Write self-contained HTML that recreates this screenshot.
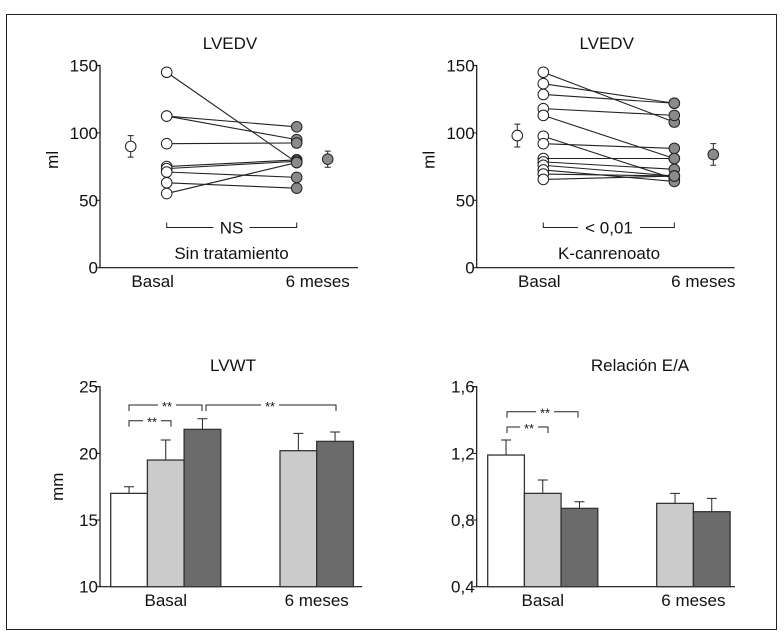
<!DOCTYPE html>
<html><head><meta charset="utf-8"><style>
body{margin:0;background:#fff;}
svg{display:block;font-family:"Liberation Sans",sans-serif;}
text{fill:#111;}
</style></head><body>
<svg id="s" width="784" height="637" viewBox="0 0 784 637">
<rect x="6.5" y="14.5" width="770" height="615" fill="none" stroke="#222" stroke-width="1"/>
</svg>
<script>
// Top-left LVEDV (Sin tratamiento)
const tlBasal=[145,112.5,112.5,92,75,73.5,71,63,55];
const tl6m=[78,104.5,95,92.5,80,79,67,59,78];
const tlMean=[90,80.5];
const tlErr=[8,6];
// Top-right LVEDV (K-canrenoato)
const trBasal=[145,136.5,128.5,118,113,97.5,92,81,78.5,76,72.5,69.5,65.5];
const tr6m=[108,122,122,113,81,66,88.5,81,73,68,64,68,68];
const trMean=[98,84];
const trErr=[8.5,8];
const yTicksTop=[0,50,100,150];
const catLabels=["Basal","6 meses"];
// Bottom-left LVWT
const lvwtBasal=[17.0,19.5,21.8];
const lvwtBasalErr=[0.5,1.5,0.8];
const lvwt6m=[20.2,20.9];
const lvwt6mErr=[1.3,0.7];
const yTicksLvwt=[10,15,20,25];
// Bottom-right E/A
const eaBasal=[1.19,0.96,0.87];
const eaBasalErr=[0.09,0.08,0.04];
const ea6m=[0.90,0.85];
const ea6mErr=[0.06,0.08];
const yTicksEa=[0.4,0.8,1.2,1.6];

const S=document.getElementById('s');
const NS='http://www.w3.org/2000/svg';
function mk(tag,at,txt){const e=document.createElementNS(NS,tag);for(const k in at)e.setAttribute(k,at[k]);if(txt!==undefined)e.textContent=txt;S.appendChild(e);return e;}
const fills=["#ffffff","#cbcbcb","#6b6b6b"];

function topPanel(p){
  const y=v=>267.7-v*1.348;
  let t=mk('text',{x:p.ax+130,y:49,'font-size':17,'text-anchor':'middle'},'LVEDV');
  
  let a=mk('path',{d:`M${p.ax-4},${y(150)}H${p.ax}V${y(0)}H${p.ax+258}`,fill:'none',stroke:'#111','stroke-width':1.2});
  
  yTicksTop.forEach(v=>{let e=mk('text',{x:p.ax-2,y:y(v)+6,'font-size':17,'text-anchor':'end'},String(v));
    
    mk('line',{x1:p.ax-4,x2:p.ax,y1:y(v),y2:y(v),stroke:'#111'});});
  let yl=mk('text',{x:0,y:0,'font-size':17,'text-anchor':'middle',transform:`translate(${p.ax-42},${y(80)}) rotate(-90)`},'ml');
  
  catLabels.forEach((c,i)=>{let e=mk('text',{x:i?p.mx[1]-10:p.mx[0]+22,y:287,'font-size':17,'text-anchor':'middle'},c);
    });
  p.b.forEach((v,i)=>{let l=mk('line',{x1:p.xb,y1:y(v),x2:p.x6,y2:y(p.s[i]),stroke:'#222','stroke-width':1.1});
    });
  p.s.forEach(v=>{let c=mk('circle',{cx:p.x6,cy:y(v),r:5.3,fill:'#8a8a8a',stroke:'#222','stroke-width':1});
    });
  p.b.forEach(v=>{let c=mk('circle',{cx:p.xb,cy:y(v),r:5.3,fill:'#fff',stroke:'#222','stroke-width':1});
    });
  p.m.forEach((v,i)=>{const x=p.mx[i];
    mk('path',{d:`M${x-3},${y(v+p.e[i])}h6M${x},${y(v+p.e[i])}V${y(v-p.e[i])}M${x-3},${y(v-p.e[i])}h6`,stroke:'#222',fill:'none'});
    let c=mk('circle',{cx:x,cy:y(v),r:5.3,fill:i?'#8a8a8a':'#fff',stroke:'#222'});
    });
  const by=227.5;
  mk('path',{d:`M${p.xb},${by-5}V${by}H${p.cx-p.gap}M${p.cx+p.gap},${by}H${p.x6}V${by-5}`,fill:'none',stroke:'#222'});
  let s=mk('text',{x:p.cx,y:by+6,'font-size':17,'text-anchor':'middle'},p.sig);
  
  let g=mk('text',{x:p.cx,y:259,'font-size':17,'text-anchor':'middle'},p.group);
  
}
topPanel({id:'lvedv-sin',ax:100,xb:166.7,x6:296.7,cx:231.5,gap:18,mx:[130.7,327.7],b:tlBasal,s:tl6m,m:tlMean,e:tlErr,sig:'NS',group:'Sin tratamiento'});
topPanel({id:'lvedv-kcan',ax:476.7,xb:543.3,x6:674.3,cx:609,gap:31,mx:[517.3,713.3],b:trBasal,s:tr6m,m:trMean,e:trErr,sig:'< 0,01',group:'K-canrenoato'});

function barPanel(p){
  const y=v=>586.7-(v-p.min)*200/(p.max-p.min);
  let t=mk('text',{x:p.tx,y:371,'font-size':17,'text-anchor':'middle'},p.title);
  
  let a=mk('path',{d:`M${p.ax-4},${y(p.max)}H${p.ax}V${y(p.min)}H${p.end}`,fill:'none',stroke:'#111','stroke-width':1.2});
  
  p.ticks.forEach(v=>{let e=mk('text',{x:p.ax-2,y:y(v)+6,'font-size':17,'text-anchor':'end'},p.fmt(v));
    
    mk('line',{x1:p.ax-4,x2:p.ax,y1:y(v),y2:y(v),stroke:'#111'});});
  if(p.ytitle){let yl=mk('text',{x:0,y:0,'font-size':17,'text-anchor':'middle',transform:`translate(${p.ax-37},${y(17.5)}) rotate(-90)`},p.ytitle);
    }
  const W=36.7;
  const groups=[[p.b,p.be,p.x0,0],[p.s,p.se,p.x1,1]];
  groups.forEach(([vals,errs,x0,off])=>{vals.forEach((v,i)=>{const x=x0+i*W,top=y(v);
    mk('path',{d:`M${x+W/2},${top}V${y(v+errs[i])}M${x+W/2-5},${y(v+errs[i])}h10`,stroke:'#222',fill:'none'});
    let r=mk('rect',{x:x,y:top,width:W,height:y(p.min)-top,fill:fills[i+off],stroke:'#333','stroke-width':1.3});
    });
    let c=mk('text',{x:x0+vals.length*W/2,y:606,'font-size':17,'text-anchor':'middle'},catLabels[off]);
    });
  p.br.forEach(b=>{mk('path',{d:`M${b[0]},${b[2]+6}V${b[2]}H${b[3]-9}M${b[3]+9},${b[2]}H${b[1]}V${b[2]+6}`,fill:'none',stroke:'#222'});
    let s=mk('text',{x:b[3],y:b[2]+6,'font-size':13,'text-anchor':'middle'},'**');
    });
}
barPanel({id:'lvwt',title:'LVWT',tx:233,ytitle:'mm',ax:100,end:362,min:10,max:25,ticks:yTicksLvwt,fmt:v=>String(v),
  x0:110.7,x1:280,b:lvwtBasal,be:lvwtBasalErr,s:lvwt6m,se:lvwt6mErr,
  br:[[129,202,405,167],[206,336,405,270],[129,171,420.7,152]]});
barPanel({id:'relacion-ea',title:'Relación E/A',tx:640,ytitle:'',ax:476.7,end:735,min:0.4,max:1.6,ticks:yTicksEa,fmt:v=>v.toFixed(1).replace('.',','),
  x0:487.7,x1:656.7,b:eaBasal,be:eaBasalErr,s:ea6m,se:ea6mErr,
  br:[[507,578,411.7,545],[507,548,427,529]]});
</script>
</body></html>
